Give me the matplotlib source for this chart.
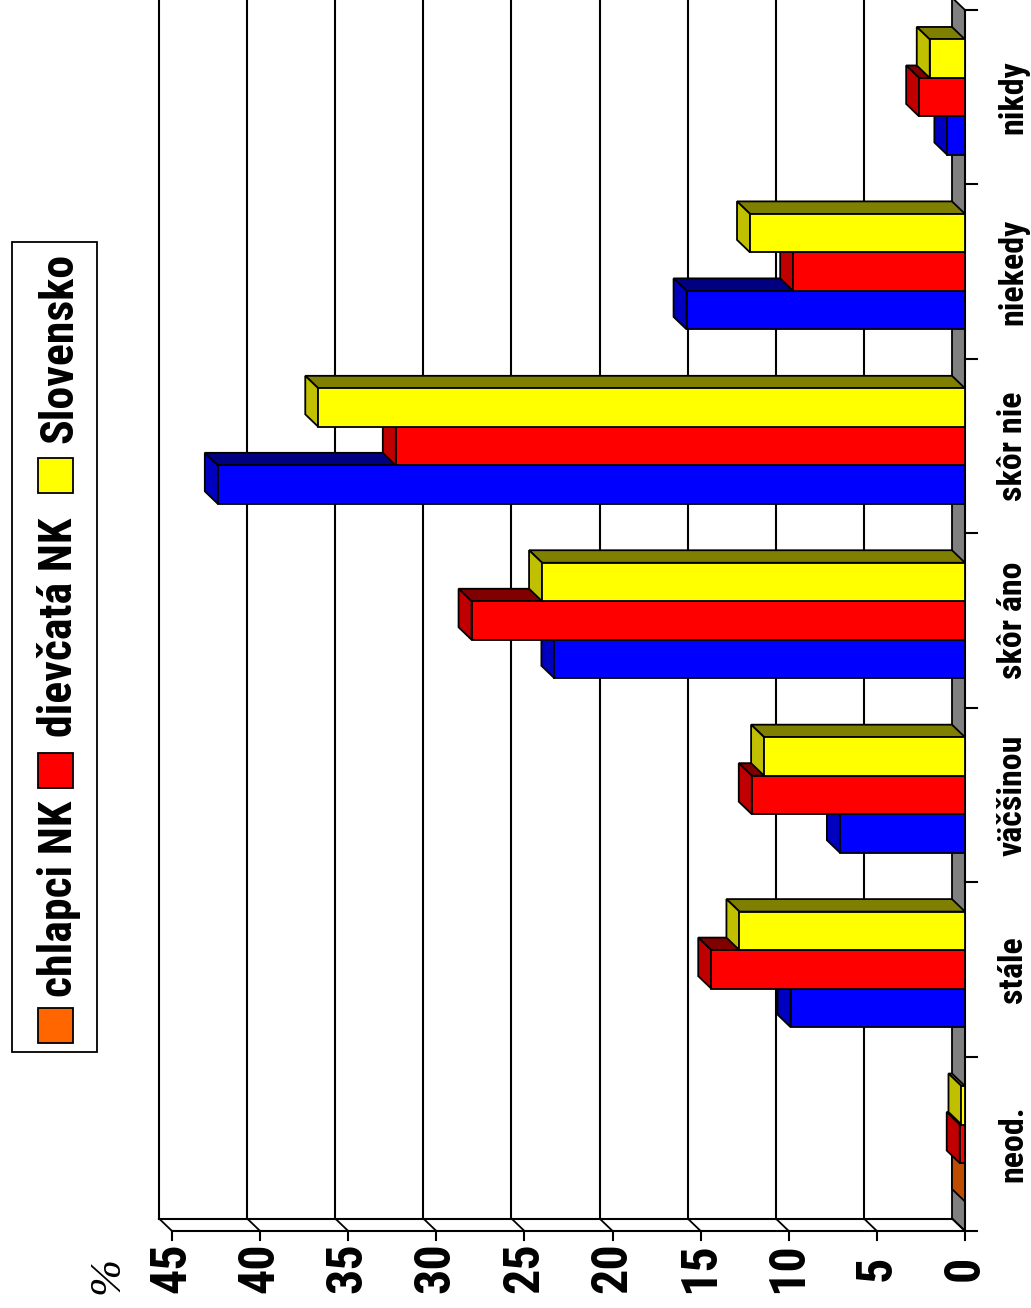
import matplotlib
matplotlib.use('Agg')
import matplotlib.pyplot as plt
from matplotlib.patches import Polygon, Rectangle
import matplotlib.transforms as mtransforms
from matplotlib import font_manager as fm

# ---------------- data ----------------
categories = ['neod.', 'stále', 'väčšinou', 'skôr áno', 'skôr nie', 'niekedy', 'nikdy']
series_names = ['chlapci NK', 'dievčatá NK', 'Slovensko']
chlapci = [0.0, 9.9, 7.1, 23.3, 42.4, 15.8, 1.0]
dievcata = [0.3, 14.4, 12.1, 28.0, 32.3, 9.75, 2.6]
slovensko = [0.2, 12.8, 11.4, 24.0, 36.7, 12.2, 2.0]
value_ticks = [0, 5, 10, 15, 20, 25, 30, 35, 40, 45]
value_tick_labels = ['0', '5', '10', '15', '20', '25', '30', '35', '40', '45']
axis_unit = '%'

# ---------------- font choice ----------------
def _w(w):
    if isinstance(w, (int, float)):
        return w
    return fm.weight_dict.get(str(w), 400)

avail = {}
for f in fm.fontManager.ttflist:
    avail.setdefault(f.name, set()).add(_w(f.weight))

prefs = ['Liberation Sans Narrow', 'Arial Narrow', 'Archivo Narrow', 'Roboto Condensed',
         'IBM Plex Sans Condensed', 'Fira Sans Condensed', 'Encode Sans Condensed',
         'Asap Condensed', 'Sofia Sans Condensed', 'PT Sans Narrow', 'Pragati Narrow',
         'Open Sans Condensed']
NARROW = None
for p in prefs:
    if p in avail and max(avail[p]) >= 600:
        NARROW = p
        break
if NARROW is None:
    NARROW = 'Liberation Sans'
FONT = [NARROW, 'DejaVu Sans']
plt.rcParams['font.family'] = FONT

# ---------------- style ----------------
W, H = 1031, 1308

def shades(front, side, top):
    return {'front': front, 'side': side, 'top': top}

BLUE = shades('#0000FF', '#0000C0', '#000080')
RED = shades('#FF0000', '#C00000', '#800000')
YEL = shades('#FFFF00', '#C0C000', '#808000')
ORA = shades('#FF6600', '#C04C00', '#803300')
series_values = [chlapci, dievcata, slovensko]
series_legend_colors = [ORA, RED, YEL]
series_point_colors = [[ORA] + [BLUE] * 6, [RED] * 7, [YEL] * 7]

fig = plt.figure(figsize=(W / 100, H / 100), dpi=100)
ax = fig.add_axes([0, 0, 1, 1])
ax.axis('off')

PXV = (965 - 172) / 45.0
PXC = (1231 - 10) / 7.0
ax.set_xlim(965 / PXV, (965 - W) / PXV)
ax.set_ylim(-0.5 - (H - 1231) / PXC, -0.5 + 1231 / PXC)

DX = 13 / PXV
DY = 12.5 / PXC
BW = 38.5 / PXC
LW = 1.3
nc = len(categories)
vmax = value_ticks[-1]

# floor strip
ax.add_patch(Polygon([(0, -0.5), (0, nc - 0.5), (DX, nc - 0.5 + DY), (DX, -0.5 + DY)],
                     closed=True, fc='#808080', ec='black', lw=LW, zorder=1))
# back-wall gridlines
for v in value_ticks[1:]:
    ax.plot([v + DX, v + DX], [-0.5 + DY, nc - 0.5 + DY], color='black', lw=1.5, zorder=1)
ax.plot([DX, vmax + DX], [-0.5 + DY, -0.5 + DY], color='black', lw=1.5, zorder=1)
ax.plot([0, vmax], [-0.5, -0.5], color='black', lw=1.5, zorder=1)
for v in value_ticks:
    ax.plot([v, v + DX], [-0.5, -0.5 + DY], color='black', lw=1.3, zorder=1)
    ax.plot([v, v], [-0.5, -0.5 - 9 / PXC], color='black', lw=1.5, zorder=1)
# category axis
ax.plot([0, 0], [-0.5, nc - 0.5], color='black', lw=1.5, zorder=1)
for k in range(nc + 1):
    ax.plot([0, -12 / PXV], [k - 0.5, k - 0.5], color='black', lw=1.5, zorder=1)

# 3-D bars
z = 2
for ci in range(nc):
    for si, vals in enumerate(series_values):
        v = vals[ci]
        col = series_point_colors[si][ci]
        c0 = ci + (si - 1) * BW - BW / 2
        c1 = c0 + BW
        ax.add_patch(Polygon([(0, c1), (v, c1), (v + DX, c1 + DY), (DX, c1 + DY)], closed=True,
                             fc=col['top'], ec='black', lw=LW, zorder=z, joinstyle='miter'))
        ax.add_patch(Polygon([(v, c0), (v, c1), (v + DX, c1 + DY), (v + DX, c0 + DY)], closed=True,
                             fc=col['side'], ec='black', lw=LW, zorder=z, joinstyle='miter'))
        ax.add_patch(Polygon([(0, c0), (v, c0), (v, c1), (0, c1)], closed=True,
                             fc=col['front'], ec='black', lw=LW, zorder=z, joinstyle='miter'))
        z += 1

# labels
for v, lab in zip(value_ticks, value_tick_labels):
    ax.text(v, -0.5 - 37 / PXC, lab, rotation=90, ha='center', va='center',
            fontsize=36, fontweight='bold', family=FONT)
for ci, lab in enumerate(categories):
    ax.text((965 - 1022) / PXV, ci, lab, rotation=90, rotation_mode='anchor',
            ha='center', va='baseline', fontsize=24.5, fontweight='bold', family=FONT)

pix = mtransforms.Affine2D().scale(1, -1).translate(0, H)

ax.text(107, 1275, axis_unit, transform=pix, rotation=90, ha='center', va='center',
        fontsize=32, style='italic', family=['Liberation Serif', 'DejaVu Serif'])

# legend
ax.add_patch(Rectangle((12, 242), 85, 810, transform=pix, fc='white', ec='black', lw=1.3, zorder=50))
leg_text_start = [997, 737, 443]
leg_square_top = [1008, 753, 458]
for name, col, ts, sq in zip(series_names, series_legend_colors, leg_text_start, leg_square_top):
    ax.add_patch(Rectangle((38, sq), 35, 35, transform=pix, fc=col['front'], ec='black', lw=1.3, zorder=51))
    ax.text(72, ts, name, transform=pix, rotation=90, rotation_mode='anchor', ha='left',
            va='baseline', fontsize=33, fontweight='bold', family=FONT, zorder=52)

fig.savefig('out.png', dpi=100)
